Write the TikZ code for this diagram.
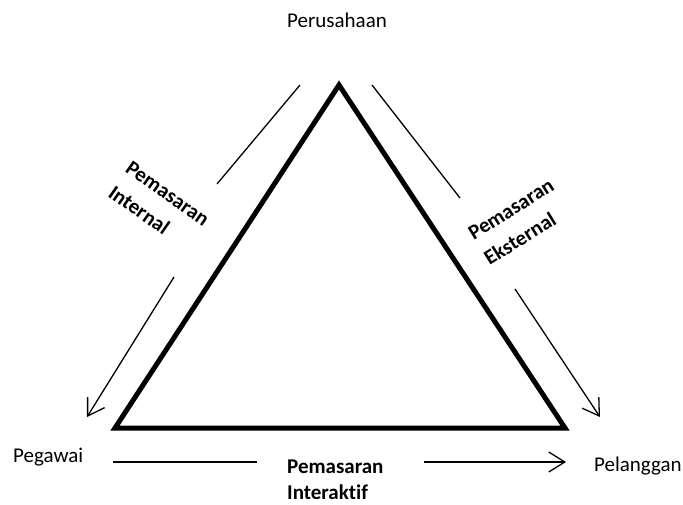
\documentclass[tikz,border=0pt]{standalone}
\usepackage{fontspec}
\setmainfont[Ligatures=NoCommon]{Carlito}
\usetikzlibrary{arrows.meta}
\begin{document}
\begin{tikzpicture}[x=1pt,y=-1pt,
  lbl/.style={inner sep=0pt,font=\fontsize{21}{27}\selectfont},
  blbl/.style={lbl,font=\fontsize{21}{30}\selectfont\bfseries,align=left},
  tri/.style={line width=5pt,line join=miter},
  conn/.style={line width=1.3pt},
  arr/.style={conn,-{Straight Barb[length=16pt,width=20pt,line width=1.3pt]}}]
\useasboundingbox (0,0) rectangle (683,504);
% triangle corners
\coordinate (top) at (339,85);
\coordinate (bl) at (115,428);
\coordinate (br) at (565,428);
\draw[tri] (top) -- (bl) -- (br) -- cycle;
% labels
\node[lbl,anchor=base] (perusahaan) at (337,27) {Perusahaan};
\node[lbl,anchor=base west] (pegawai) at (13,462) {Pegawai};
\node[lbl,anchor=base west] (pelanggan) at (594,471) {Pelanggan};
\node[blbl,rotate=-35] (internal) at (159,206) {Pemasaran\\Internal};
\node[blbl,rotate=32] (eksternal) at (519,222) {Pemasaran\\Eksternal};
\node[blbl,anchor=base west] (interaktif1) at (287,473) {Pemasaran};
\node[blbl,anchor=base west] (interaktif2) at (287,499) {Interaktif};
% connector end points
\coordinate (l1a) at (300,85);
\coordinate (l1b) at (217,184);
\coordinate (l2a) at (174,277);
\coordinate (l2b) at (87,417);
\coordinate (r1a) at (372,85);
\coordinate (r1b) at (460,198);
\coordinate (r2a) at (515,289);
\coordinate (r2b) at (600,417);
\coordinate (b1a) at (113,462);
\coordinate (b1b) at (257,462);
\coordinate (b2a) at (424,462);
\coordinate (b2b) at (566,462);
\draw[conn] (l1a) -- (l1b);
\draw[arr] (l2a) -- (l2b);
\draw[conn] (r1a) -- (r1b);
\draw[arr] (r2a) -- (r2b);
\draw[conn] (b1a) -- (b1b);
\draw[arr] (b2a) -- (b2b);
\end{tikzpicture}
\end{document}
